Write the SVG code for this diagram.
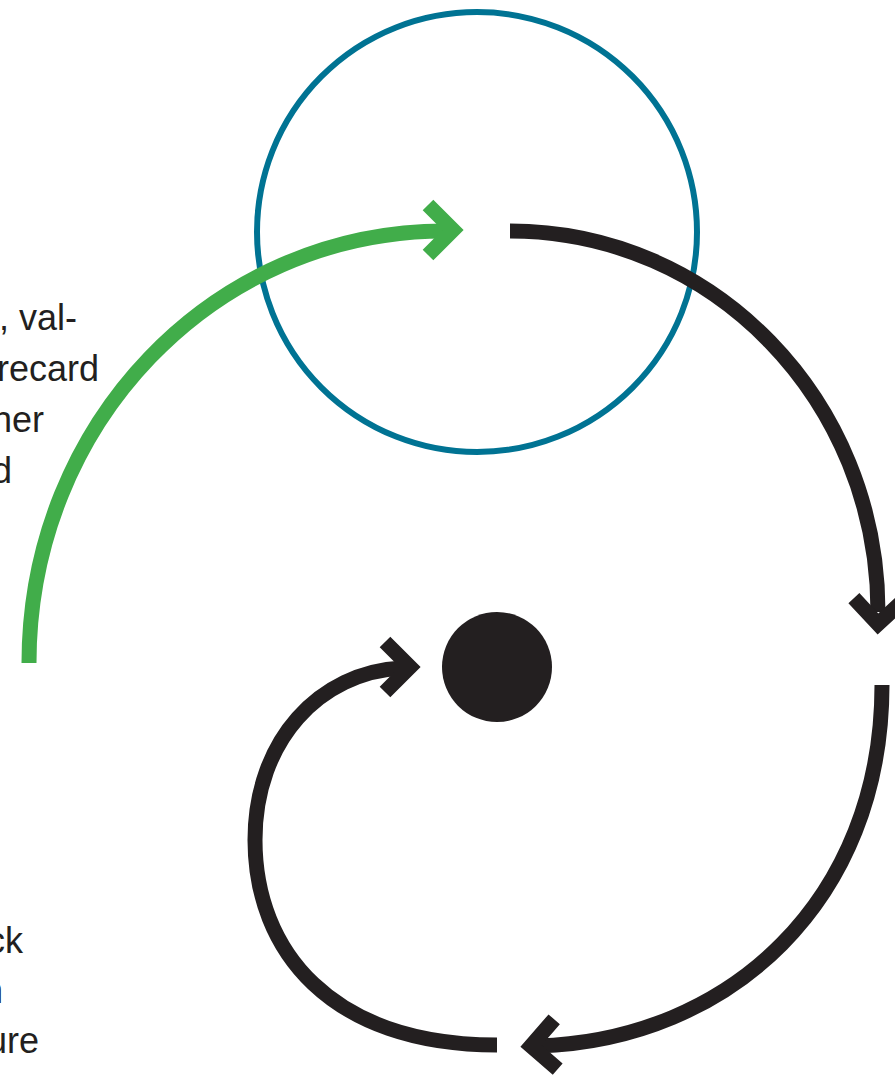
<svg xmlns="http://www.w3.org/2000/svg" xmlns:xlink="http://www.w3.org/1999/xlink" width="895" height="1075" viewBox="0 0 895 1075">
  <style>
    .txt { font-family: "Liberation Sans", Arial, sans-serif; font-size: 36px; fill: #231f20; text-anchor: end; }
    .blk { fill: none; stroke: #231f20; stroke-width: 15; }
    .grn { fill: none; stroke: #41ad4a; stroke-width: 15; }
    .chev { stroke-linejoin: miter; stroke-miterlimit: 10; stroke-linecap: butt; }
  </style>
  <defs>
    <path id="chev" d="M-25,-25 L0,0 L-25,25"/>
  </defs>
  <rect width="895" height="1075" fill="#ffffff"/>

  <g id="left-text">
    <text class="txt" x="77" y="330">, val-</text>
    <text class="txt" x="99" y="381">recard</text>
    <text class="txt" x="44" y="432">her</text>
    <text class="txt" x="12" y="483">d</text>
    <text class="txt" x="23" y="953">ck</text>
    <text class="txt" x="3" y="1003">n</text>
    <text class="txt" x="39" y="1053">ure</text>
  </g>

  <g id="circle-node">
    <circle cx="477" cy="232" r="220" fill="none" stroke="#007393" stroke-width="6"/>
  </g>

  <g id="dot-node">
    <circle cx="497" cy="667" r="55" fill="#231f20"/>
  </g>

  <g id="connectors">
    <path class="grn" d="M29,663 C29,424 213,231 445,231"/>
    <use xlink:href="#chev" class="grn chev" transform="translate(453,230)"/>

    <path class="blk" d="M510,231 C713,231 878,400 878,612"/>
    <use xlink:href="#chev" class="blk chev" transform="translate(878,624) rotate(92)"/>

    <path class="blk" d="M882,685 C882,900 730,1040 538,1046"/>
    <use xlink:href="#chev" class="blk chev" transform="translate(531,1046) rotate(176)"/>

    <path class="blk" d="M497,1045 C330,1045 255,950 255,840 C255,740 320,672 402,668"/>
    <use xlink:href="#chev" class="blk chev" transform="translate(410,667)"/>
  </g>
</svg>
